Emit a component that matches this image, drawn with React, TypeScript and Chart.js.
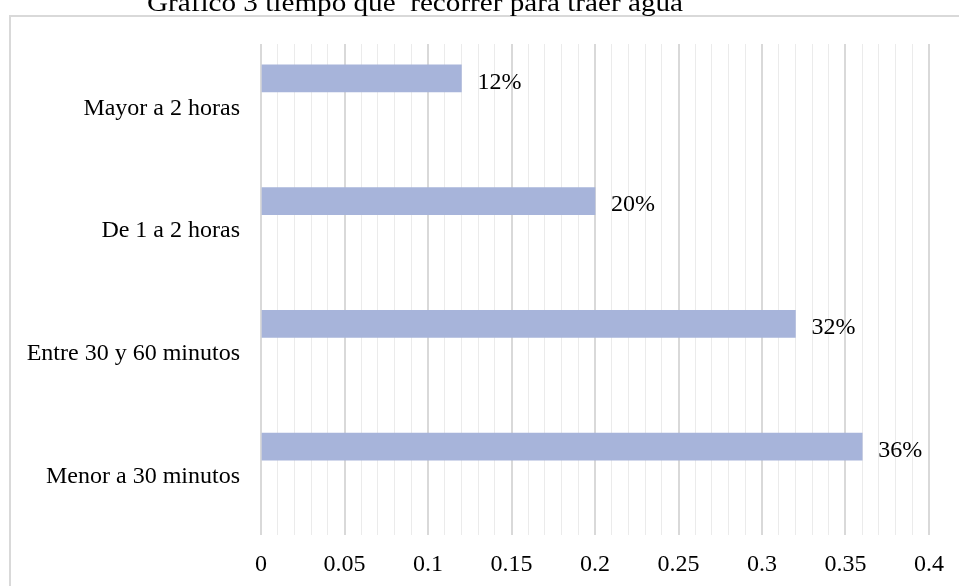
import React, { useEffect, useRef } from "react";
import { Chart, registerables } from "chart.js";

Chart.register(...registerables);

const categories = [
  "Mayor a 2 horas",
  "De 1 a 2 horas",
  "Entre 30 y 60 minutos",
  "Menor a 30 minutos",
];
const values = [0.12, 0.2, 0.32, 0.36];
const valueLabels = ["12%", "20%", "32%", "36%"];
const emptySeries: (number | null)[] = [null, null, null, null];
const titleText = "Gráfico 3 tiempo que  recorrer para traer agua";

const FONT = '"Liberation Serif", "Times New Roman", serif';

const framePlugin = {
  id: "frameAndTitle",
  beforeDraw(chart: any) {
    const ctx = chart.ctx;
    ctx.save();
    ctx.fillStyle = "#ffffff";
    ctx.fillRect(0, 0, chart.width, chart.height);
    ctx.strokeStyle = "#d9d9d9";
    ctx.lineWidth = 2;
    ctx.strokeRect(10, 16, chart.width + 20, chart.height + 20);
    ctx.fillStyle = "#000000";
    ctx.font = "25px " + FONT;
    ctx.textBaseline = "alphabetic";
    ctx.textAlign = "left";
    const w = ctx.measureText(titleText).width;
    const target = 536;
    ctx.translate(147, 11);
    ctx.scale(target / w, 1);
    ctx.fillText(titleText, 0, 0);
    ctx.restore();
  },
};

const labelPlugin = {
  id: "valueLabels",
  afterDatasetsDraw(chart: any) {
    const ctx = chart.ctx;
    const meta = chart.getDatasetMeta(0);
    ctx.save();
    ctx.fillStyle = "#000000";
    ctx.font = "24px " + FONT;
    ctx.textBaseline = "middle";
    ctx.textAlign = "left";
    meta.data.forEach((bar: any, i: number) => {
      ctx.fillText(valueLabels[i], bar.x + 16, bar.y + 4);
    });
    ctx.restore();
  },
};

export default function App() {
  const ref = useRef<HTMLCanvasElement | null>(null);
  useEffect(() => {
    if (!ref.current) return;
    const isMajor = (v: number) => Math.round(v * 100) % 5 === 0;
    const chart = new Chart(ref.current, {
      type: "bar",
      data: {
        labels: categories,
        datasets: [
          {
            label: "Tiempo",
            data: values,
            backgroundColor: "#a7b4da",
            borderWidth: 0,
            barThickness: 27,
          },
          { label: "", data: emptySeries, barThickness: 27 },
          { label: "", data: emptySeries, barThickness: 27 },
        ],
      },
      options: {
        indexAxis: "y",
        animation: false,
        responsive: false,
        maintainAspectRatio: false,
        layout: { padding: { top: 44, right: 30, left: 0, bottom: 0 } },
        plugins: {
          legend: { display: false },
          title: { display: false },
          tooltip: { enabled: false },
        },
        scales: {
          x: {
            type: "linear",
            min: 0,
            max: 0.4,
            border: { display: false },
            grid: {
              drawTicks: false,
              color: (c: any) => (isMajor(c.tick.value) ? "#d9d9d9" : "#ebebeb"),
              lineWidth: (c: any) => (isMajor(c.tick.value) ? 2 : 1),
            },
            ticks: {
              stepSize: 0.01,
              autoSkip: false,
              maxRotation: 0,
              padding: 15,
              color: "#000000",
              font: { family: FONT, size: 24 },
              callback: (v: any) => {
                const n = Number(v);
                return isMajor(n) ? String(Math.round(n * 100) / 100) : "";
              },
            },
            afterFit: (s: any) => {
              s.height = 51;
            },
          },
          y: {
            type: "category",
            border: { display: false },
            grid: { display: false, drawTicks: false },
            ticks: {
              padding: 21,
              labelOffset: 3,
              color: "#000000",
              font: { family: FONT, size: 24 },
            },
            afterFit: (s: any) => {
              s.width = 261;
            },
          },
        },
      },
      plugins: [framePlugin, labelPlugin],
    });
    return () => chart.destroy();
  }, []);
  return (
    <div style={{ position: "fixed", left: 0, top: 0, width: 959, height: 586 }}>
      <canvas ref={ref} width={959} height={586} style={{ display: "block" }} />
    </div>
  );
}
